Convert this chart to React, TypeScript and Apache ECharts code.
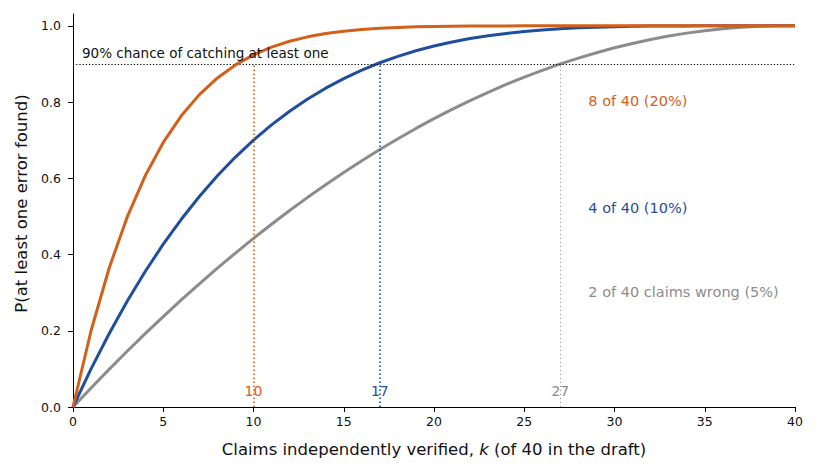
import React, { useEffect, useRef } from 'react';
import * as echarts from 'echarts';

// claims verified, k
const kValues = [
  0, 1, 2, 3, 4, 5, 6, 7, 8, 9, 10, 11, 12, 13, 14, 15, 16, 17, 18, 19, 20,
  21, 22, 23, 24, 25, 26, 27, 28, 29, 30, 31, 32, 33, 34, 35, 36, 37, 38, 39, 40,
];

// P(at least one error found), 2 of 40 wrong
const pTwoWrong = [
  0, 0.05, 0.0987, 0.1462, 0.1923, 0.2372, 0.2808, 0.3231, 0.3641, 0.4038, 0.4423,
  0.4795, 0.5154, 0.55, 0.5833, 0.6154, 0.6462, 0.6756, 0.7038, 0.7308, 0.7564,
  0.7808, 0.8038, 0.8256, 0.8462, 0.8654, 0.8833, 0.9, 0.9154, 0.9295, 0.9423,
  0.9538, 0.9641, 0.9731, 0.9808, 0.9872, 0.9923, 0.9962, 0.9987, 1, 1,
];

// 4 of 40 wrong
const pFourWrong = [
  0, 0.1, 0.1923, 0.2773, 0.3555, 0.4271, 0.4925, 0.5522, 0.6065, 0.6557, 0.7001,
  0.7401, 0.776, 0.808, 0.8364, 0.8616, 0.8837, 0.9031, 0.92, 0.9345, 0.947,
  0.9576, 0.9665, 0.974, 0.9801, 0.9851, 0.989, 0.9922, 0.9946, 0.9964, 0.9977,
  0.9986, 0.9992, 0.9996, 0.9998, 0.9999, 1, 1, 1, 1, 1,
];

// 8 of 40 wrong
const pEightWrong = [
  0, 0.2, 0.3641, 0.498, 0.6065, 0.694, 0.7639, 0.8195, 0.8632, 0.8974, 0.9239,
  0.9442, 0.9596, 0.9711, 0.9797, 0.9859, 0.9904, 0.9936, 0.9958, 0.9974, 0.9984,
  0.999, 0.9994, 0.9997, 0.9998, 0.9999, 1, 1, 1, 1, 1,
  1, 1, 1, 1, 1, 1, 1, 1, 1, 1,
];

// k needed to reach 90%
const kAtNinety = [27, 17, 10];
const seriesLabels = ['2 of 40 claims wrong (5%)', '4 of 40 (10%)', '8 of 40 (20%)'];
const seriesColors = ['#8c8c8c', '#1f4e9c', '#d2601a'];
const yTicks = [0, 0.2, 0.4, 0.6, 0.8, 1.0];
const threshold = 0.9;

const App = () => {
  const chartRef = useRef<HTMLDivElement>(null);

  useEffect(() => {
    if (!chartRef.current) return;
    const myChart = echarts.init(chartRef.current, null, { renderer: 'svg' });

    const curves = [pTwoWrong, pFourWrong, pEightWrong];
    const labelY = [0.302, 0.522, 0.803];

    const lineSeries: any[] = curves.map((vals, i) => ({
      type: 'line',
      name: seriesLabels[i],
      data: kValues.map((k, j) => [k, vals[j]]),
      showSymbol: false,
      symbol: 'none',
      lineStyle: { color: seriesColors[i], width: 3 },
      z: 3 + i,
      markLine: {
        silent: true,
        symbol: ['none', 'none'],
        label: { show: false },
        lineStyle: {
          color: seriesColors[i],
          type: i === 0 ? [1, 3] : [1.5, 2.5],
          width: i === 0 ? 1 : 1.6,
        },
        data: [[{ coord: [kAtNinety[i], 0] }, { coord: [kAtNinety[i], threshold] }]],
      },
    }));

    // threshold line
    lineSeries.push({
      type: 'line',
      data: [],
      markLine: {
        silent: true,
        symbol: ['none', 'none'],
        label: { show: false },
        lineStyle: { color: '#000', type: [1.2, 2], width: 1 },
        data: [{ yAxis: threshold }],
      },
    });

    const textSeries = (items: any[]) => ({
      type: 'scatter',
      symbolSize: 0,
      silent: true,
      itemStyle: { opacity: 1 },
      z: 10,
      data: items,
    });

    // curve labels at the right
    lineSeries.push(
      textSeries(
        seriesLabels.map((t, i) => ({
          value: [28.55, labelY[i]],
          label: {
            show: true,
            position: 'right',
            distance: 0,
            formatter: t,
            color: seriesColors[i],
            opacity: 1,
            fontSize: 14.5,
          },
        })),
      ),
    );

    // k labels near the bottom
    lineSeries.push(
      textSeries(
        kAtNinety.map((k, i) => ({
          value: [k, 0.042],
          label: {
            show: true,
            position: 'inside',
            formatter: String(k),
            color: seriesColors[i],
            opacity: 1,
            fontSize: 14,
          },
        })),
      ),
    );

    // threshold caption
    lineSeries.push(
      textSeries([
        {
          value: [0.5, 0.929],
          label: {
            show: true,
            position: 'right',
            distance: 0,
            formatter: '90% chance of catching at least one',
            color: '#111',
            opacity: 1,
            fontSize: 13.5,
          },
        },
      ]),
    );

    const option: any = {
      animation: false,
      textStyle: { fontFamily: 'DejaVu Sans' },
      grid: { left: 73, right: 24, top: 14, bottom: 69, containLabel: false },
      xAxis: {
        type: 'value',
        min: 0,
        max: 40,
        interval: 5,
        name: 'Claims independently verified, {i|k} (of 40 in the draft)',
        nameLocation: 'middle',
        nameGap: 34,
        nameTextStyle: {
          fontSize: 16.5,
          color: '#111',
          rich: { i: { fontStyle: 'italic', fontSize: 16.5, color: '#111' } },
        },
        axisLine: { lineStyle: { color: '#000', width: 1 } },
        axisTick: { inside: false, length: 5, lineStyle: { color: '#000' } },
        axisLabel: { color: '#111', fontSize: 12.5, margin: 8 },
        splitLine: { show: false },
      },
      yAxis: {
        type: 'value',
        min: 0,
        max: 1.031,
        name: 'P(at least one error found)',
        nameLocation: 'middle',
        nameGap: 43,
        nameTextStyle: { fontSize: 16.5, color: '#111', padding: [0, 0, 0, 14] },
        axisLine: { show: true, lineStyle: { color: '#000', width: 1 } },
        axisTick: { show: true, inside: false, length: 5, customValues: yTicks, lineStyle: { color: '#000' } },
        axisLabel: {
          color: '#111',
          fontSize: 12.5,
          margin: 12,
          customValues: yTicks,
          formatter: (v: number) => v.toFixed(1),
        },
        splitLine: { show: false },
      },
      series: lineSeries,
    };

    myChart.setOption(option);
    return () => {
      myChart.dispose();
    };
  }, []);

  return (
    <div
      ref={chartRef}
      style={{ position: 'fixed', left: 0, top: 0, width: '819px', height: '476px', background: '#fff' }}
    />
  );
};

export default App;
